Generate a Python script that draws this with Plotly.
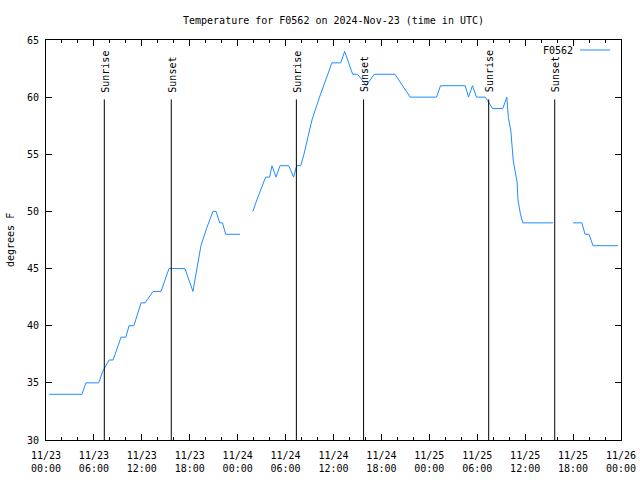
import plotly.graph_objects as go
from datetime import datetime, timedelta

# ---- data ----
base = datetime(2024, 11, 23, 0, 0)
hours = [0.4, 4.5, 5.0, 6.6, 7.1, 7.9, 8.4, 8.9, 9.4, 10.0, 10.4, 11.0, 11.45, 11.9, 12.4,
         13.4, 14.4, 14.9, 15.4, 17.4, 18.4, 19.4, 20.1, 20.9, 21.3, 21.75, 22.1, 22.5, 24.3,
         25.0,
         25.9, 26.4, 27.5, 28.0, 28.3, 28.8, 29.3, 30.4, 31.0, 31.4, 31.9, 32.3, 32.8, 33.3,
         34.25, 35.1, 35.8, 36.9, 37.4, 38.4, 39.0, 39.6, 40.1, 41.1, 43.7, 45.6, 48.9, 49.4,
         52.5, 52.9, 53.4, 53.9, 55.0, 55.4, 55.9, 57.2, 57.7, 57.9, 58.2, 58.5, 59.0, 59.1,
         59.4, 59.7, 63.5,
         64.5,
         66.0, 67.1, 67.5, 68.0, 68.5, 71.6]
temps = [34, 34, 35, 35, 36, 37, 37, 38, 39, 39, 40, 40, 41, 42, 42,
         43, 43, 44, 45, 45, 43, 47, 48.5, 50, 50, 49, 49, 48, 48,
         None,
         50, 51, 53, 53, 54, 53, 54, 54, 53, 54, 54, 55, 56.5, 58,
         60, 61.6, 63, 63, 64, 62, 62, 61.5, 61, 62, 62, 60, 60, 61,
         61, 60, 61, 60, 60, 59.6, 59, 59, 60, 58.2, 57.1, 54.5, 52.5, 51,
         49.8, 49, 49,
         None,
         49, 49, 48, 48, 47, 47]
times = [(base + timedelta(hours=h)).strftime("%Y-%m-%d %H:%M:%S") for h in hours]

event_times = ["2024-11-23 07:18", "2024-11-23 15:41", "2024-11-24 07:21",
               "2024-11-24 15:46", "2024-11-25 07:26", "2024-11-25 15:42"]
event_labels = ["Sunrise", "Sunset", "Sunrise", "Sunset", "Sunrise", "Sunset"]

station = "F0562"
title = "Temperature for F0562 on 2024-Nov-23 (time in UTC)"

FONT = "DejaVu Sans Mono"
LINE_COLOR = "#1e8cff"

fig = go.Figure()
fig.add_trace(go.Scatter(x=times, y=temps, mode="lines",
                         line=dict(color=LINE_COLOR, width=1),
                         connectgaps=False, name=station, showlegend=False))

shapes = []
annotations = []
for t, lab in zip(event_times, event_labels):
    shapes.append(dict(type="line", xref="x", yref="y", x0=t, x1=t, y0=30, y1=59.8,
                       line=dict(color="black", width=1)))
    annotations.append(dict(x=t, y=59.8, xref="x", yref="y", text=lab, textangle=-90,
                            showarrow=False, xanchor="center", yanchor="bottom",
                            yshift=5, xshift=1, font=dict(family=FONT, size=10, color="black")))

# manual legend (text left of line sample)
W, H = 575.0, 400.0
annotations.append(dict(xref="paper", yref="paper", x=(575 - 46) / W, y=(440 - 50) / H,
                        text=station, showarrow=False, xanchor="right", yanchor="middle",
                        font=dict(family=FONT, size=10, color="black")))
shapes.append(dict(type="line", xref="paper", yref="paper",
                   x0=(580 - 46) / W, x1=(610 - 46) / W, y0=(440 - 50) / H, y1=(440 - 50) / H,
                   line=dict(color=LINE_COLOR, width=1)))

# y-axis title
annotations.append(dict(xref="paper", yref="paper", x=0, y=0.5, xshift=-36, text="degrees F",
                        textangle=-90, showarrow=False, xanchor="center", yanchor="middle",
                        font=dict(family=FONT, size=10, color="black")))

fig.update_layout(
    width=640, height=480,
    margin=dict(l=46, r=19, t=40, b=40, autoexpand=False),
    paper_bgcolor="white", plot_bgcolor="white",
    font=dict(family=FONT, size=10, color="black"),
    title=dict(text=title, x=0.5, xref="paper", xanchor="center", y=1 - 20 / 480,
               yanchor="middle", font=dict(family=FONT, size=10, color="black")),
    shapes=shapes, annotations=annotations,
    showlegend=False,
)
fig.update_xaxes(
    type="date", range=["2024-11-23 00:00", "2024-11-26 00:00"],
    tick0="2024-11-23 00:00", dtick=6 * 3600 * 1000, tickformat="%m/%d<br>%H:%M",
    ticks="inside", ticklen=6, tickcolor="black", showline=True, linecolor="black",
    linewidth=1, mirror="allticks", showgrid=False, zeroline=False, automargin=False,
    minor=dict(dtick=2 * 3600 * 1000, ticks="inside", ticklen=3, tickcolor="black", showgrid=False),
    ticklabelstandoff=6,
)
fig.update_yaxes(
    range=[30, 65], dtick=5, tick0=30,
    ticks="inside", ticklen=6, tickcolor="black", showline=True, linecolor="black",
    linewidth=1, mirror="allticks", showgrid=False, zeroline=False, automargin=False,
    ticklabelstandoff=4,
)

fig.write_html("out.html")
